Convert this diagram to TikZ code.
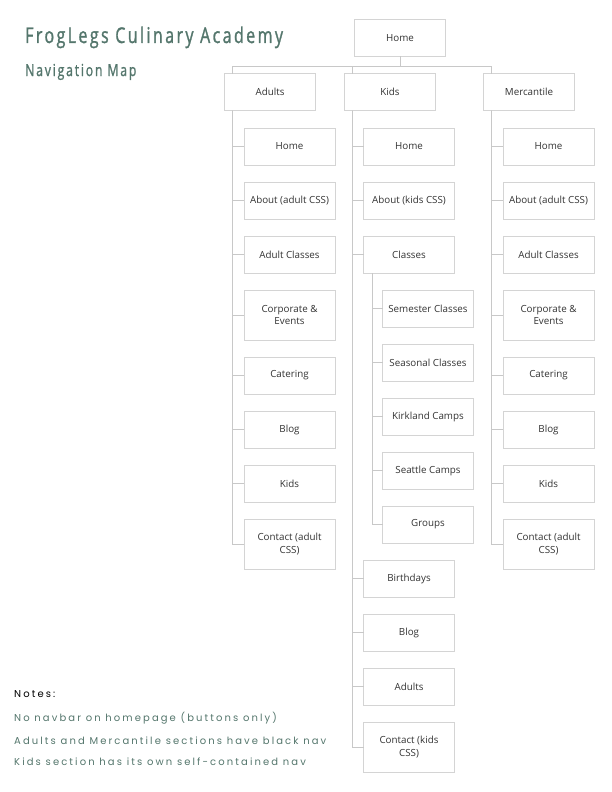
\documentclass[tikz,border=0pt]{standalone}
\usepackage{fontspec}
\setmainfont{Open Sans}
\newfontfamily\titlefont[FakeStretch=0.74,LetterSpace=11,FakeBold=1.2]{Open Sans}
\newfontfamily\notefont[LetterSpace=21]{Poppins}
\usetikzlibrary{positioning}
\definecolor{sage}{RGB}{84,118,108}
\definecolor{edgegray}{RGB}{200,200,200}
\definecolor{boxgray}{RGB}{212,212,212}

\begin{document}
\begin{tikzpicture}[x=1pt,y=-1pt,node distance=17pt,
  box/.style={draw=boxgray,line width=0.8pt,fill=white,minimum width=91pt,minimum height=37pt,
    inner sep=2pt,outer sep=0pt,align=center,text=black!80,font=\fontsize{9.8}{12.5}\selectfont},
  tall/.style={box,minimum height=50pt},
  link/.style={draw=edgegray,line width=0.8pt},
  note/.style={anchor=base west,inner sep=0pt,text=sage,font=\notefont\fontsize{10}{12}\selectfont}]
\useasboundingbox (0,0) rectangle (612,792);

% titles
\node[anchor=base west,inner sep=0pt,text=sage,font=\titlefont\fontsize{21.7}{26}\selectfont] (title) at (25,43) {FrogLegs Culinary Academy};
\node[anchor=base west,inner sep=0pt,text=sage,font=\titlefont\fontsize{16.5}{20}\selectfont] (subtitle) at (25,76) {Navigation Map};

% top level
\node[box] (home) at (400,38) {Home};
\node[box] (adults) at (270,92) {Adults};
\node[box] (kids) at (390,92) {Kids};
\node[box] (merc) at (529,92) {Mercantile};

% adults section
\node[box] (ahome) at (289.5,146.5) {Home};
\node[box,below=of ahome] (aabout) {About (adult CSS)};
\node[box,below=of aabout] (aclass) {Adult Classes};
\node[tall,below=of aclass] (acorp) {Corporate \&\\Events};
\node[box,below=of acorp] (acater) {Catering};
\node[box,below=of acater] (ablog) {Blog};
\node[box,below=of ablog] (akids) {Kids};
\node[tall,below=of akids] (acontact) {Contact (adult\\CSS)};

% kids section
\node[box] (khome) at (409,146.5) {Home};
\node[box,below=of khome] (kabout) {About (kids CSS)};
\node[box,below=of kabout] (kclass) {Classes};
\node[box,below=of kclass,xshift=19pt] (ksem) {Semester Classes};
\node[box,below=of ksem] (kseas) {Seasonal Classes};
\node[box,below=of kseas] (kkirk) {Kirkland Camps};
\node[box,below=of kkirk] (kseat) {Seattle Camps};
\node[box,below=of kseat] (kgroup) {Groups};
\node[box,below=of kgroup,xshift=-19pt] (kbirth) {Birthdays};
\node[box,below=of kbirth] (kblog) {Blog};
\node[box,below=of kblog] (kadults) {Adults};
\node[tall,below=of kadults] (kcontact) {Contact (kids\\CSS)};

% mercantile section
\node[box] (mhome) at (548.5,146.5) {Home};
\node[box,below=of mhome] (mabout) {About (adult CSS)};
\node[box,below=of mabout] (mclass) {Adult Classes};
\node[tall,below=of mclass] (mcorp) {Corporate \&\\Events};
\node[box,below=of mcorp] (mcater) {Catering};
\node[box,below=of mcater] (mblog) {Blog};
\node[box,below=of mblog] (mkids) {Kids};
\node[tall,below=of mkids] (mcontact) {Contact (adult\\CSS)};

% connectors
\draw[link] (home.south) -- ++(0,10) coordinate (bus);
\foreach \s in {adults,kids,merc}
  \draw[link] (bus) -| ([xshift=8pt]\s.north west);
\foreach \c in {ahome,aabout,aclass,acorp,acater,ablog,akids,acontact}
  \draw[link] ([xshift=8pt]adults.south west) |- (\c.west);
\foreach \c in {khome,kabout,kclass,kbirth,kblog,kadults,kcontact}
  \draw[link] ([xshift=8pt]kids.south west) |- (\c.west);
\foreach \c in {ksem,kseas,kkirk,kseat,kgroup}
  \draw[link] ([xshift=9pt]kclass.south west) |- (\c.west);
\foreach \c in {mhome,mabout,mclass,mcorp,mcater,mblog,mkids,mcontact}
  \draw[link] ([xshift=8pt]merc.south west) |- (\c.west);

% notes
\node[note,text=black] (notes) at (14,697) {Notes:};
\node[note] (note1) at (14,721) {No navbar on homepage (buttons only)};
\node[note] (note2) at (14,744) {Adults and Mercantile sections have black nav};
\node[note] (note3) at (14,765) {Kids section has its own self-contained nav};
\end{tikzpicture}
\end{document}
